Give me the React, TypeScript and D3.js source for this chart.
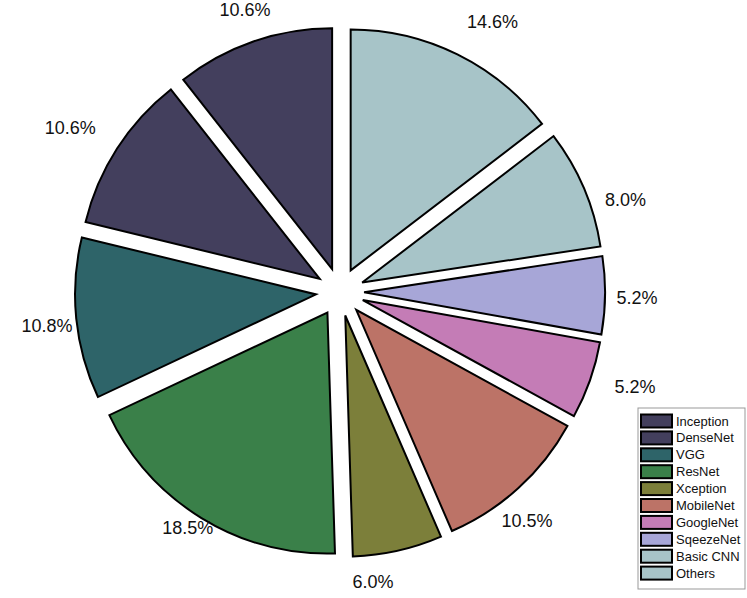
import React from "react";
import * as d3 from "d3";

const categories = [
  "Inception",
  "DenseNet",
  "VGG",
  "ResNet",
  "Xception",
  "MobileNet",
  "GoogleNet",
  "SqeezeNet",
  "Basic CNN",
  "Others",
];
const shares = [10.6, 10.6, 10.8, 18.5, 6.0, 10.5, 5.2, 5.2, 8.0, 14.6];
const colors = [
  "#433f5d",
  "#433f5d",
  "#2e6469",
  "#3a8049",
  "#7c7f3a",
  "#bc7367",
  "#c47cb6",
  "#a7a6d7",
  "#a7c4c8",
  "#a7c4c8",
];

// label placement tweaks: angle nudge (deg, counterclockwise) and distance from centre
const labelNudge = [-0.5, 1.4, 0.8, -1.3, -6.1, -3.1, 1.6, -0.5, -5.2, -3.2];
const labelDist = [298, 316, 295, 281, 292, 296, 310, 297, 300, 310];

export default function App() {
  const width = 747;
  const height = 598;
  const cx = 340;
  const cy = 292;
  const radius = 241;
  const explode = 0.1 * radius;

  // counterclockwise from 12 o'clock
  const pie = d3
    .pie<number>()
    .sort(null)
    .value((d) => d)
    .startAngle(0)
    .endAngle(-2 * Math.PI);
  const arcs = pie(shares);
  const arc = d3.arc<d3.PieArcDatum<number>>().innerRadius(0).outerRadius(radius);

  const font = "'Liberation Sans', Arial, Helvetica, sans-serif";

  const legend = { x: 638, y: 408, w: 107, h: 181, row: 16.9 };

  return (
    <svg
      width={width}
      height={height}
      style={{ position: "absolute", left: 0, top: 0, background: "#fff" }}
    >
      <g transform={`translate(${cx},${cy})`}>
        {arcs.map((a, i) => {
          const mid = (a.startAngle + a.endAngle) / 2;
          const dx = Math.sin(mid);
          const dy = -Math.cos(mid);
          const la = mid - (labelNudge[i] * Math.PI) / 180;
          return (
            <g key={categories[i]}>
              <path
                d={arc(a) ?? ""}
                transform={`translate(${dx * explode},${dy * explode})`}
                fill={colors[i]}
                stroke="#000"
                strokeWidth={2}
              />
              <text
                x={Math.sin(la) * labelDist[i]}
                y={-Math.cos(la) * labelDist[i]}
                textAnchor="middle"
                dominantBaseline="central"
                fontFamily={font}
                fontSize={18}
                fill="#111"
              >
                {shares[i].toFixed(1)}%
              </text>
            </g>
          );
        })}
      </g>
      <g>
        <rect
          x={legend.x}
          y={legend.y}
          width={legend.w}
          height={legend.h}
          fill="#fff"
          stroke="#999"
          strokeWidth={1}
        />
        {categories.map((c, i) => {
          const yc = legend.y + 13 + i * legend.row;
          return (
            <g key={c}>
              <rect
                x={legend.x + 3}
                y={yc - 6.5}
                width={31}
                height={13}
                fill={colors[i]}
                stroke="#000"
                strokeWidth={2}
              />
              <text
                x={legend.x + 38}
                y={yc}
                dominantBaseline="central"
                fontFamily={font}
                fontSize={13}
                fill="#111"
              >
                {c}
              </text>
            </g>
          );
        })}
      </g>
    </svg>
  );
}
